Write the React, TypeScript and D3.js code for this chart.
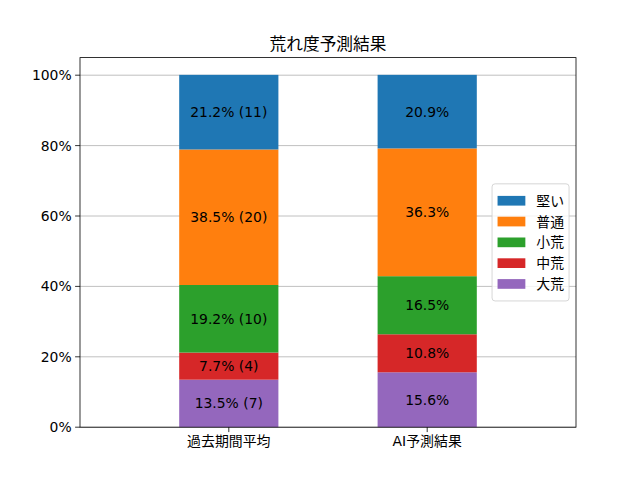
import * as d3 from "d3";

// categories on the x axis
const groups = ["過去期間平均", "AI予測結果"];
// stack order, bottom to top
const levels = ["大荒", "中荒", "小荒", "普通", "堅い"];
const colors = ["#9467bd", "#d62728", "#2ca02c", "#ff7f0e", "#1f77b4"];
// percentages per level (bottom to top)
const pastPct = [13.5, 7.7, 19.2, 38.5, 21.2];
const pastCount = [7, 4, 10, 20, 11];
const aiPct = [15.6, 10.8, 16.5, 36.3, 20.9];
const yTicks = [0, 20, 40, 60, 80, 100];

const W = 640, H = 480;
const M = { left: 80, right: 576, top: 57.6, bottom: 427.2 };
const FONT = "'DejaVu Sans', 'Noto Sans CJK JP', sans-serif";
const FS = 13.9;

const App = () => {
  const x = d3.scaleLinear().domain([-0.75, 1.75]).range([M.left, M.right]);
  const y = d3.scaleLinear().domain([0, 105]).range([M.bottom, M.top]);
  const barW = x(0.5) - x(0);

  const series = [
    { pct: pastPct, count: pastCount },
    { pct: aiPct, count: null },
  ];

  const stacks = series.map((s) => {
    let acc = 0;
    return s.pct.map((v, i) => {
      const y0 = acc;
      acc += v;
      return { y0, y1: acc, v, i, count: s.count ? s.count[i] : null };
    });
  });

  // legend layout (matplotlib "center right")
  const rowH = 20.8;
  const legH = levels.length * rowH + 2 * 0.4 * FS + 2;
  const legW = 77;
  const legX = M.right - 0.5 * FS - legW;
  const legY = (M.top + M.bottom) / 2 - legH / 2;
  const legendItems = levels.map((l, i) => ({ l, c: colors[i] })).reverse();

  return (
    <svg
      width={W}
      height={H}
      style={{ position: "absolute", left: 0, top: 0, background: "#fff" }}
      fontFamily={FONT}
    >
      {/* grid */}
      {yTicks.map((t) => (
        <line key={"g" + t} x1={M.left} x2={M.right} y1={y(t)} y2={y(t)} stroke="#b0b0b0" strokeWidth={0.8} />
      ))}
      {/* bars */}
      {stacks.map((st, gi) =>
        st.map((d) => (
          <rect
            key={gi + "-" + d.i}
            x={x(gi) - barW / 2}
            width={barW}
            y={y(d.y1)}
            height={y(d.y0) - y(d.y1)}
            fill={colors[d.i]}
          />
        ))
      )}
      {/* labels */}
      {stacks.map((st, gi) =>
        st.map((d) => (
          <text
            key={"t" + gi + "-" + d.i}
            x={x(gi)}
            y={y((d.y0 + d.y1) / 2)}
            textAnchor="middle"
            dominantBaseline="central"
            fontSize={FS}
            fill="#000"
          >
            {d.v.toFixed(1) + "%" + (d.count !== null ? ` (${d.count})` : "")}
          </text>
        ))
      )}
      {/* spines */}
      <rect x={M.left} y={M.top} width={M.right - M.left} height={M.bottom - M.top} fill="none" stroke="#000" strokeWidth={0.8} />
      {/* y ticks */}
      {yTicks.map((t) => (
        <g key={"y" + t}>
          <line x1={M.left - 4.9} x2={M.left} y1={y(t)} y2={y(t)} stroke="#000" strokeWidth={0.8} />
          <text x={M.left - 8.4} y={y(t)} textAnchor="end" dominantBaseline="central" fontSize={FS}>
            {t + "%"}
          </text>
        </g>
      ))}
      {/* x ticks */}
      {groups.map((g, i) => (
        <g key={"x" + g}>
          <line x1={x(i)} x2={x(i)} y1={M.bottom} y2={M.bottom + 4.9} stroke="#000" strokeWidth={0.8} />
          <text x={x(i)} y={M.bottom + 8.4} textAnchor="middle" dominantBaseline="hanging" fontSize={FS}>
            {g}
          </text>
        </g>
      ))}
      {/* title */}
      <text x={(M.left + M.right) / 2} y={M.top - 8} textAnchor="middle" fontSize={16.7}>
        荒れ度予測結果
      </text>
      {/* legend */}
      <rect x={legX} y={legY} width={legW} height={legH} rx={3} fill="#fff" fillOpacity={0.8} stroke="#cccccc" strokeWidth={0.8} />
      {legendItems.map((it, i) => {
        const cy = legY + 0.4 * FS + 1 + rowH * (i + 0.5);
        return (
          <g key={"l" + it.l}>
            <rect x={legX + 5.5} y={cy - 4.9} width={27.8} height={9.7} fill={it.c} />
            <text x={legX + 5.5 + 27.8 + 11} y={cy} dominantBaseline="central" fontSize={FS}>
              {it.l}
            </text>
          </g>
        );
      })}
    </svg>
  );
};

export default App;
